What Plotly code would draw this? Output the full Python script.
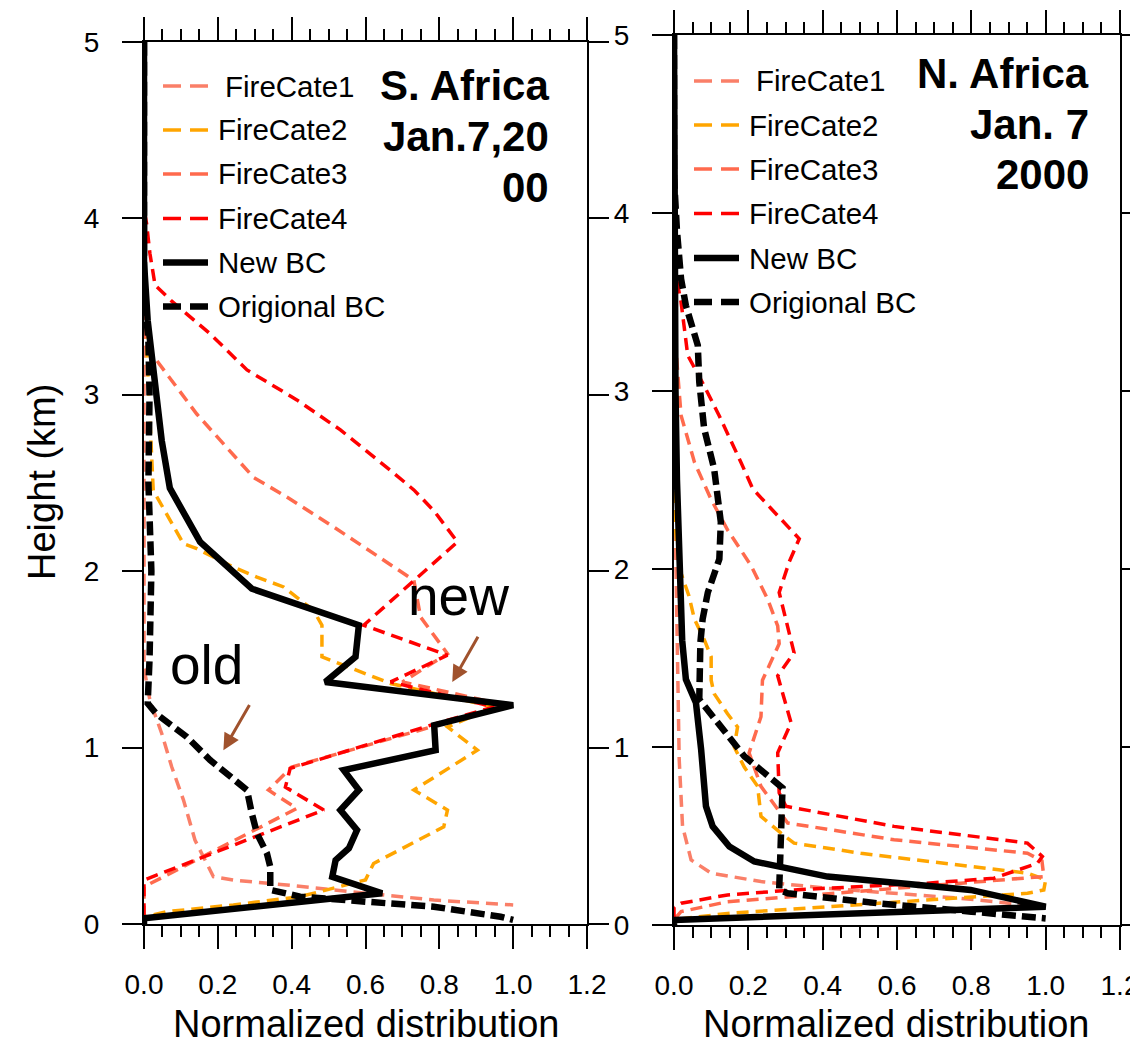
import plotly.graph_objects as go

# page body has an 8px margin: the figure is shifted by OFF, so size it to fit the window
OFF = 8
W, H = 1138 - OFF, 1051 - OFF
FONT = "Liberation Sans, Arial, Helvetica, sans-serif"

# ---------------- data: S. Africa (left panel) ----------------
sa_fc1_h = [5.0, 1.45, 1.268, 1.08, 0.891, 0.702, 0.476, 0.268, 0.249, 0.221, 0.174, 0.136, 0.108]
sa_fc1_v = [0.0, 0.0, 0.016, 0.048, 0.075, 0.107, 0.138, 0.188, 0.242, 0.387, 0.604, 0.785, 1.0]

sa_fc2_h = [5.0, 3.6, 2.457, 2.325, 2.155, 2.127, 2.023, 1.966, 1.91, 1.778, 1.693, 1.551, 1.514, 1.363,
            1.23, 1.117, 0.985, 0.759, 0.646, 0.551, 0.343, 0.25, 0.155, 0.108, 0.07, 0.04, 0.0]
sa_fc2_v = [0.0, 0.0, 0.025, 0.062, 0.107, 0.143, 0.242, 0.306, 0.378, 0.459, 0.482, 0.482, 0.482, 0.668,
            0.948, 0.822, 0.903, 0.731, 0.822, 0.812, 0.622, 0.60, 0.423, 0.242, 0.062, 0.0, 0.0]

sa_fc3_h = [5.0, 3.35, 3.27, 3.155, 2.89, 2.53, 2.42, 2.25, 1.948, 1.74, 1.532, 1.372, 1.24, 1.13,
            0.89, 0.759, 0.655, 0.211, 0.0]
sa_fc3_v = [0.0, 0.0, 0.007, 0.048, 0.143, 0.297, 0.387, 0.514, 0.731, 0.749, 0.822, 0.70, 0.98, 0.80,
            0.40, 0.337, 0.414, 0.0, 0.0]

sa_fc4_h = [5.0, 4.05, 3.97, 3.8, 3.62, 3.53, 3.345, 3.14, 2.97, 2.80, 2.57, 2.46, 2.34, 2.165, 1.693,
            1.523, 1.372, 1.23, 1.127, 0.882, 0.776, 0.646, 0.249, 0.0]
sa_fc4_v = [0.0, 0.0, 0.007, 0.016, 0.03, 0.075, 0.179, 0.279, 0.414, 0.532, 0.668, 0.731, 0.786, 0.849, 0.595,
            0.822, 0.668, 0.948, 0.777, 0.396, 0.383, 0.487, 0.0, 0.0]

sa_new_h = [5.0, 3.75, 3.42, 3.02, 2.74, 2.47, 2.165, 1.90, 1.693, 1.514, 1.372, 1.24, 1.127, 0.985,
            0.872, 0.759, 0.646, 0.532, 0.429, 0.362, 0.268, 0.174, 0.032, 0.0]
sa_new_v = [0.0, 0.0, 0.01, 0.03, 0.048, 0.07, 0.152, 0.292, 0.582, 0.573, 0.491, 1.0, 0.786, 0.79,
            0.541, 0.582, 0.532, 0.577, 0.555, 0.519, 0.51, 0.645, 0.0, 0.0]

sa_old_h = [5.0, 3.6, 3.3, 3.0, 2.5, 2.0, 1.5, 1.25, 1.19, 1.06, 0.929, 0.759, 0.627, 0.513, 0.40,
            0.324, 0.193, 0.155, 0.126, 0.098, 0.041, 0.023]
sa_old_v = [0.0, 0.0, 0.012, 0.015, 0.012, 0.02, 0.015, 0.01, 0.034, 0.116, 0.179, 0.279, 0.292, 0.306, 0.333,
            0.342, 0.342, 0.423, 0.604, 0.785, 0.966, 1.0]

# ---------------- data: N. Africa (right panel) ----------------
na_fc1_h = [5.0, 2.3, 2.056, 1.49, 0.93, 0.554, 0.366, 0.291, 0.244, 0.206, 0.178, 0.15, 0.103, 0.03, 0.0]
na_fc1_v = [0.0, 0.0, 0.005, 0.01, 0.014, 0.023, 0.046, 0.1, 0.234, 0.413, 0.592, 0.771, 0.995, 0.0, 0.0]

na_fc2_h = [5.0, 2.3, 2.0, 1.85, 1.718, 1.6, 1.506, 1.375, 1.3, 1.187, 1.112, 1.0, 0.887, 0.779, 0.704,
            0.61, 0.516, 0.46, 0.403, 0.338, 0.291, 0.254, 0.197, 0.178, 0.141, 0.103, 0.065, 0.03, 0.0]
na_fc2_v = [0.0, 0.0, 0.015, 0.04, 0.055, 0.082, 0.1, 0.1, 0.108, 0.144, 0.171, 0.162, 0.189, 0.225, 0.229,
            0.234, 0.288, 0.323, 0.503, 0.771, 0.951, 1.0, 0.995, 0.951, 0.682, 0.413, 0.144, 0.0, 0.0]

na_fc3_h = [5.0, 3.4, 3.1, 2.863, 2.60, 2.39, 2.22, 2.02, 1.83, 1.68, 1.58, 1.375, 1.17, 0.967, 0.779,
            0.629, 0.573, 0.479, 0.403, 0.36, 0.272, 0.235, 0.178, 0.131, 0.075, 0.03, 0.0]
na_fc3_v = [0.0, 0.0, 0.01, 0.019, 0.055, 0.1, 0.144, 0.207, 0.252, 0.279, 0.283, 0.238, 0.234, 0.202, 0.234,
            0.288, 0.306, 0.592, 0.951, 0.99, 0.995, 0.771, 0.413, 0.144, 0.019, 0.0, 0.0]

na_fc4_h = [5.0, 3.7, 3.50, 3.20, 3.03, 2.86, 2.60, 2.45, 2.34, 2.17, 2.04, 1.868, 1.53, 1.40, 1.136,
            0.967, 0.742, 0.667, 0.554, 0.46, 0.385, 0.347, 0.263, 0.235, 0.197, 0.169, 0.122, 0.10, 0.0]
na_fc4_v = [0.0, 0.0, 0.019, 0.037, 0.081, 0.122, 0.18, 0.212, 0.261, 0.337, 0.31, 0.283, 0.323, 0.279, 0.315,
            0.279, 0.283, 0.301, 0.592, 0.951, 0.991, 0.978, 0.861, 0.682, 0.323, 0.144, 0.019, 0.0, 0.0]

na_new_h = [5.0, 3.5, 3.0, 2.5, 2.05, 1.6, 1.38, 1.249, 0.986, 0.667, 0.554, 0.441, 0.357, 0.329, 0.272,
            0.235, 0.197, 0.103, 0.028, 0.0]
na_new_v = [0.0, 0.0, 0.004, 0.008, 0.013, 0.022, 0.032, 0.059, 0.073, 0.086, 0.104, 0.149, 0.216, 0.279, 0.413,
            0.61, 0.798, 1.0, 0.0, 0.0]

na_old_h = [5.0, 4.2, 3.9, 3.63, 3.48, 3.257, 3.05, 2.79, 2.563, 2.263, 2.056, 1.868, 1.718, 1.587, 1.268,
            0.948, 0.77, 0.197, 0.178, 0.122, 0.075, 0.037]
na_old_v = [0.0, 0.0, 0.008, 0.019, 0.032, 0.064, 0.068, 0.081, 0.108, 0.126, 0.122, 0.091, 0.077, 0.071, 0.068,
            0.189, 0.292, 0.283, 0.306, 0.548, 0.8, 1.0]

series_names = ["FireCate1", "FireCate2", "FireCate3", "FireCate4", "New BC", "Origional BC"]
series_colors = ["#FA7F68", "#FFA500", "#FF6A4D", "#FF0000", "#000000", "#000000"]
series_widths = [3.5, 3.5, 3.5, 3.5, 6.5, 6.5]
series_dash = ["12px,7px", "12px,7px", "12px,7px", "12px,7px", "solid", "14px,6px"]

left_series = [(sa_fc1_v, sa_fc1_h), (sa_fc2_v, sa_fc2_h), (sa_fc3_v, sa_fc3_h),
               (sa_fc4_v, sa_fc4_h), (sa_new_v, sa_new_h), (sa_old_v, sa_old_h)]
right_series = [(na_fc1_v, na_fc1_h), (na_fc2_v, na_fc2_h), (na_fc3_v, na_fc3_h),
                (na_fc4_v, na_fc4_h), (na_new_v, na_new_h), (na_old_v, na_old_h)]

fig = go.Figure()
for axes, group in (("1", left_series), ("2", right_series)):
    for i, (v, h) in enumerate(group):
        fig.add_trace(go.Scatter(
            x=v, y=h, mode="lines", name=series_names[i], showlegend=False, hoverinfo="skip",
            line=dict(color=series_colors[i], width=series_widths[i], dash=series_dash[i]),
            xaxis="x" if axes == "1" else "x2", yaxis="y" if axes == "1" else "y2"))

def px(x):
    return (x - OFF) / W

def py(y):
    return 1 - (y - OFF) / H

def xaxis_cfg(dom):
    return dict(domain=dom, range=[0, 1.2], tick0=0, dtick=0.2, tickformat=".1f",
                ticks="outside", ticklen=23, tickwidth=2, tickcolor="black",
                showline=True, linewidth=2, linecolor="black", mirror="allticks",
                showgrid=False, zeroline=False, ticklabelstandoff=11, automargin=False,
                ticklabeloverflow="allow",
                tickfont=dict(family=FONT, size=28, color="black"),
                minor=dict(dtick=0.05, tick0=0, ticks="outside", ticklen=11, tickwidth=2,
                           tickcolor="black", showgrid=False))

def yaxis_cfg(dom, anchor):
    return dict(domain=dom, range=[0, 5], tick0=0, dtick=1, anchor=anchor,
                ticks="outside", ticklen=20, tickwidth=2, tickcolor="black",
                showline=True, linewidth=2, linecolor="black", mirror="allticks",
                showgrid=False, zeroline=False, ticklabelstandoff=17, automargin=False,
                ticklabeloverflow="allow",
                tickfont=dict(family=FONT, size=28, color="black"))

xa1 = xaxis_cfg([px(144), px(587)]); xa1["anchor"] = "y"
xa2 = xaxis_cfg([px(674), px(1120)]); xa2["anchor"] = "y2"
ya1 = yaxis_cfg([py(924), py(41.7)], "x")
ya2 = yaxis_cfg([py(925), py(35)], "x2")

shapes = []
annotations = []

# legends (drawn as keys in paper space)
def add_legend(x0, x1, xtext, ys, first_indent):
    for i, name in enumerate(series_names):
        dash = "solid" if series_dash[i] == "solid" else "18px,9px"
        shapes.append(dict(type="line", xref="paper", yref="paper",
                           x0=px(x0), x1=px(x1), y0=py(ys[i]), y1=py(ys[i]),
                           line=dict(color=series_colors[i], width=series_widths[i], dash=dash)))
        xt = xtext + (first_indent if i == 0 else 0)
        annotations.append(dict(xref="paper", yref="paper", x=px(xt), y=py(ys[i]),
                                text=name, showarrow=False, xanchor="left", yanchor="middle",
                                font=dict(family=FONT, size=29.5, color="black")))

left_leg_y = [86, 130, 174, 218.5, 262.5, 306.5]
right_leg_y = [81, 125, 169, 213.5, 258, 302]
add_legend(163, 208, 216, left_leg_y, 7)
add_legend(694, 739, 747, right_leg_y, 7)

# panel titles
for txt, y in (("S. Africa", 85), ("Jan.7,20", 137), ("00", 188)):
    annotations.append(dict(xref="paper", yref="paper", x=px(551), y=py(y), text="<b>%s</b>" % txt,
                            showarrow=False, xanchor="right", yanchor="middle",
                            font=dict(family=FONT, size=42, color="black")))
for txt, y in (("N. Africa", 74), ("Jan. 7", 124), ("2000", 175)):
    annotations.append(dict(xref="paper", yref="paper", x=px(1091), y=py(y), text="<b>%s</b>" % txt,
                            showarrow=False, xanchor="right", yanchor="middle",
                            font=dict(family=FONT, size=42, color="black")))

# axis titles
annotations.append(dict(xref="paper", yref="paper", x=px(42), y=py(482), text="Height (km)",
                        textangle=-90, showarrow=False, xanchor="center", yanchor="middle",
                        font=dict(family=FONT, size=38, color="black")))
for xc in (366, 896):
    annotations.append(dict(xref="paper", yref="paper", x=px(xc), y=py(1024),
                            text="Normalized distribution", showarrow=False,
                            xanchor="center", yanchor="middle",
                            font=dict(family=FONT, size=38, color="black")))

# "new" / "old" labels with arrows (data coordinates of left panel)
annotations.append(dict(xref="x", yref="y", x=0.852, y=1.86, text="new", showarrow=False,
                        xanchor="center", yanchor="middle", font=dict(family=FONT, size=55, color="black")))
annotations.append(dict(xref="x", yref="y", x=0.168, y=1.47, text="old", showarrow=False,
                        xanchor="center", yanchor="middle", font=dict(family=FONT, size=55, color="black")))
arrow_color = "#A0522D"
annotations.append(dict(xref="x", yref="y", axref="x", ayref="y", x=0.835, y=1.372, ax=0.907, ay=1.636,
                        showarrow=True, arrowhead=2, arrowsize=1.1, arrowwidth=3, arrowcolor=arrow_color, text=""))
annotations.append(dict(xref="x", yref="y", axref="x", ayref="y", x=0.215, y=0.985, ax=0.288, ay=1.25,
                        showarrow=True, arrowhead=2, arrowsize=1.1, arrowwidth=3, arrowcolor=arrow_color, text=""))

fig.update_layout(
    width=W, height=H, margin=dict(l=0, r=0, t=0, b=0, autoexpand=False),
    paper_bgcolor="white", plot_bgcolor="white", showlegend=False,
    xaxis=xa1, yaxis=ya1, xaxis2=xa2, yaxis2=ya2,
    shapes=shapes, annotations=annotations,
    font=dict(family=FONT, color="black"),
)

fig.write_html("out.html")
